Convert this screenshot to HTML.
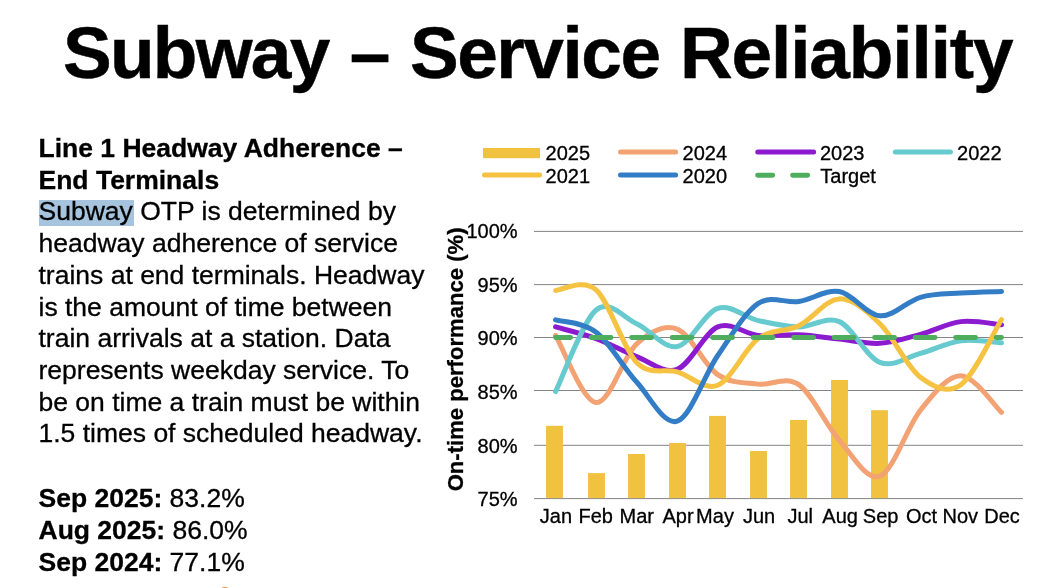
<!DOCTYPE html>
<html><head><meta charset="utf-8">
<style>
html,body{margin:0;padding:0;background:#fff;}
body{width:1040px;height:588px;overflow:hidden;position:relative;font-family:"Liberation Sans",Arial,sans-serif;color:#000;}
#title{-webkit-text-stroke:0.5px #000;position:absolute;left:62.9px;top:15.6px;white-space:nowrap;font-weight:bold;font-size:73px;line-height:1;letter-spacing:-1.11px;}
#txt{-webkit-text-stroke:0.3px #000;position:absolute;left:38.5px;top:133px;font-size:26.5px;line-height:31.7px;white-space:nowrap;}
#txt b{font-weight:bold;}
#stats{position:absolute;left:0;top:0;}
#stats div{position:absolute;left:0;line-height:31.7px;white-space:nowrap;}
.hl{position:absolute;left:39px;top:200px;width:95px;height:25.5px;background:#a6c4de;}
</style></head><body>
<div id="title"><span style="letter-spacing:-1.7px;margin-right:2.1px">Subway</span> <span style="margin-right:1.5px">–</span> <span style="letter-spacing:-1.46px;margin-right:1.2px">Service</span> Reliability</div>
<div class="hl"></div>
<div id="txt"><b>Line 1 Headway Adherence –<br>End Terminals</b><br>Subway OTP is determined by<br>headway adherence of service<br>trains at end terminals. Headway<br>is the amount of time between<br>train arrivals at a station. Data<br>represents weekday service. To<br>be on time a train must be within<br>1.5 times of scheduled headway.<div id="stats"><div style="top:349.7px"><b>Sep 2025:</b> 83.2%</div><div style="top:381.7px"><b>Aug 2025:</b> 86.0%</div><div style="top:413.7px"><b>Sep 2024:</b> 77.1%</div></div></div>
<svg id="chart" width="1040" height="588" viewBox="0 0 1040 588" style="position:absolute;left:0;top:0">
<rect x="534.0" y="230.90" width="489.0" height="1" fill="#848484"/>
<rect x="534.0" y="284.10" width="489.0" height="1" fill="#848484"/>
<rect x="534.0" y="337.00" width="489.0" height="1" fill="#848484"/>
<rect x="534.0" y="390.00" width="489.0" height="1" fill="#848484"/>
<rect x="534.0" y="444.80" width="489.0" height="1" fill="#848484"/>
<rect x="534.0" y="498.10" width="489.0" height="1" fill="#848484"/>
<rect x="546.05" y="425.80" width="16.90" height="72.30" fill="#f0c23f"/>
<rect x="588.05" y="473.10" width="16.90" height="25.00" fill="#f0c23f"/>
<rect x="628.05" y="454.00" width="16.90" height="44.10" fill="#f0c23f"/>
<rect x="669.05" y="443.00" width="16.90" height="55.10" fill="#f0c23f"/>
<rect x="709.05" y="415.90" width="16.90" height="82.20" fill="#f0c23f"/>
<rect x="750.05" y="451.00" width="16.90" height="47.10" fill="#f0c23f"/>
<rect x="790.05" y="420.00" width="16.90" height="78.10" fill="#f0c23f"/>
<rect x="831.05" y="380.00" width="16.90" height="118.10" fill="#f0c23f"/>
<rect x="871.05" y="410.20" width="16.90" height="87.90" fill="#f0c23f"/>
<path d="M555.58,335.38 C562.34,346.58 582.61,401.14 596.12,402.56 C609.63,403.97 623.15,356.11 636.66,343.86 C650.17,331.61 663.69,323.91 677.20,329.04 C690.71,334.16 704.23,365.42 717.74,374.60 C731.25,383.78 744.77,382.46 758.28,384.14 C771.79,385.82 785.31,375.30 798.82,384.67 C812.33,394.04 825.85,425.11 839.36,440.37 C852.87,455.63 866.39,481.24 879.90,476.21 C893.41,471.19 906.93,426.99 920.44,410.23 C933.95,393.47 947.47,375.29 960.98,375.66 C974.49,376.03 994.76,406.29 1001.52,412.42" fill="none" stroke="#f2a273" stroke-width="5" stroke-linecap="round" stroke-linejoin="round"/>
<path d="M555.58,326.92 C562.34,328.86 582.61,333.62 596.12,338.56 C609.63,343.50 623.15,351.46 636.66,356.58 C650.17,361.70 663.69,374.24 677.20,369.30 C690.71,364.36 704.23,332.57 717.74,326.92 C731.25,321.27 744.77,334.06 758.28,335.38 C771.79,336.71 785.31,334.24 798.82,334.86 C812.33,335.47 825.85,337.68 839.36,339.09 C852.87,340.50 866.39,344.12 879.90,343.33 C893.41,342.54 906.93,337.94 920.44,334.33 C933.95,330.71 947.47,323.22 960.98,321.63 C974.49,320.04 994.76,324.27 1001.52,324.80" fill="none" stroke="#8c1bd0" stroke-width="5" stroke-linecap="round" stroke-linejoin="round"/>
<path d="M555.58,391.60 C562.34,378.00 582.61,321.30 596.12,309.99 C609.63,298.68 623.15,317.66 636.66,323.75 C650.17,329.83 663.69,349.07 677.20,346.51 C690.71,343.95 704.23,312.73 717.74,308.41 C731.25,304.08 744.77,317.49 758.28,320.57 C771.79,323.66 785.31,326.74 798.82,326.92 C812.33,327.10 825.85,315.72 839.36,321.63 C852.87,327.54 866.39,357.11 879.90,362.41 C893.41,367.70 906.93,357.02 920.44,353.40 C933.95,349.78 947.47,342.45 960.98,340.68 C974.49,338.91 994.76,342.45 1001.52,342.80" fill="none" stroke="#66cacf" stroke-width="5" stroke-linecap="round" stroke-linejoin="round"/>
<path d="M555.58,290.42 C562.34,290.33 582.61,277.89 596.12,289.89 C609.63,301.89 623.15,348.73 636.66,362.41 C650.17,376.09 663.69,368.15 677.20,371.95 C690.71,375.75 704.23,390.76 717.74,385.20 C731.25,379.63 744.77,348.45 758.28,338.56 C771.79,328.67 785.31,332.47 798.82,325.86 C812.33,319.25 825.85,299.24 839.36,298.88 C852.87,298.53 866.39,310.68 879.90,323.75 C893.41,336.81 906.93,367.10 920.44,377.25 C933.95,387.40 947.47,394.29 960.98,384.67 C974.49,375.05 994.76,330.37 1001.52,319.51" fill="none" stroke="#f5c242" stroke-width="5" stroke-linecap="round" stroke-linejoin="round"/>
<path d="M555.58,319.83 C562.34,321.89 582.61,321.85 596.12,332.21 C609.63,342.57 623.15,367.19 636.66,382.02 C650.17,396.85 663.69,425.60 677.20,421.19 C690.71,416.77 704.23,375.15 717.74,355.52 C731.25,335.89 744.77,312.43 758.28,303.43 C771.79,294.43 785.31,303.52 798.82,301.53 C812.33,299.54 825.85,289.10 839.36,291.48 C852.87,293.86 866.39,314.84 879.90,315.81 C893.41,316.78 906.93,301.09 920.44,297.30 C933.95,293.50 947.47,294.03 960.98,293.06 C974.49,292.09 994.76,291.74 1001.52,291.48" fill="none" stroke="#327dc6" stroke-width="5" stroke-linecap="round" stroke-linejoin="round"/>
<path d="M555.58,337.50 L1001.52,337.50" fill="none" stroke="#4eae5e" stroke-width="4.9" stroke-linecap="round" stroke-dasharray="20 20.5" stroke-dashoffset="5.0"/>
<rect x="483" y="148" width="57" height="10.2" fill="#f0c23f"/>
<path d="M620.5,151.9 L675.6,151.9" stroke="#f2a273" stroke-width="5" stroke-linecap="round" fill="none"/>
<path d="M757.8,151.9 L813.6,151.9" stroke="#8c1bd0" stroke-width="5" stroke-linecap="round" fill="none"/>
<path d="M895.3,151.9 L950.4,151.9" stroke="#66cacf" stroke-width="5" stroke-linecap="round" fill="none"/>
<path d="M484.5,175.1 L539.6,175.1" stroke="#f5c242" stroke-width="5" stroke-linecap="round" fill="none"/>
<path d="M620.5,175.1 L675.6,175.1" stroke="#327dc6" stroke-width="5" stroke-linecap="round" fill="none"/>
<path d="M757.6,175.3 L772.7,175.3 M792.6,175.3 L807.7,175.3" stroke="#4eae5e" stroke-width="4.9" stroke-linecap="round" fill="none"/>
<g font-family="Liberation Sans, Arial, sans-serif" font-size="20px" fill="#000" stroke="#000" stroke-width="0.3">
<text x="545.6" y="159.9">2025</text>
<text x="682.6" y="159.9">2024</text>
<text x="819.9" y="159.9">2023</text>
<text x="957.1" y="159.9">2022</text>
<text x="545.6" y="182.7">2021</text>
<text x="682.6" y="182.7">2020</text>
<text x="820.3" y="182.7">Target</text>
<text x="517.6" y="238.0" text-anchor="end">100%</text>
<text x="517.6" y="291.6" text-anchor="end">95%</text>
<text x="517.6" y="345.0" text-anchor="end">90%</text>
<text x="517.6" y="399.2" text-anchor="end">85%</text>
<text x="517.6" y="453.1" text-anchor="end">80%</text>
<text x="517.6" y="505.5" text-anchor="end">75%</text>
<text x="555.9" y="522.8" text-anchor="middle">Jan</text>
<text x="595.7" y="522.8" text-anchor="middle">Feb</text>
<text x="636.7" y="522.8" text-anchor="middle">Mar</text>
<text x="678.1" y="522.8" text-anchor="middle">Apr</text>
<text x="715.0" y="522.8" text-anchor="middle">May</text>
<text x="759.0" y="522.8" text-anchor="middle">Jun</text>
<text x="800.2" y="522.8" text-anchor="middle">Jul</text>
<text x="840.1" y="522.8" text-anchor="middle">Aug</text>
<text x="880.6" y="522.8" text-anchor="middle">Sep</text>
<text x="921.6" y="522.8" text-anchor="middle">Oct</text>
<text x="960.3" y="522.8" text-anchor="middle">Nov</text>
<text x="1002.0" y="522.8" text-anchor="middle">Dec</text>
</g>
<text transform="translate(463.0,359.4) rotate(-90)" text-anchor="middle" font-family="Liberation Sans, Arial, sans-serif" font-weight="bold" font-size="22.1px" fill="#000" stroke="#000" stroke-width="0.3">On-time performance (%)</text>
<ellipse cx="225" cy="591.6" rx="5.2" ry="4.8" fill="#f0a468"/>
</svg>
</body></html>
